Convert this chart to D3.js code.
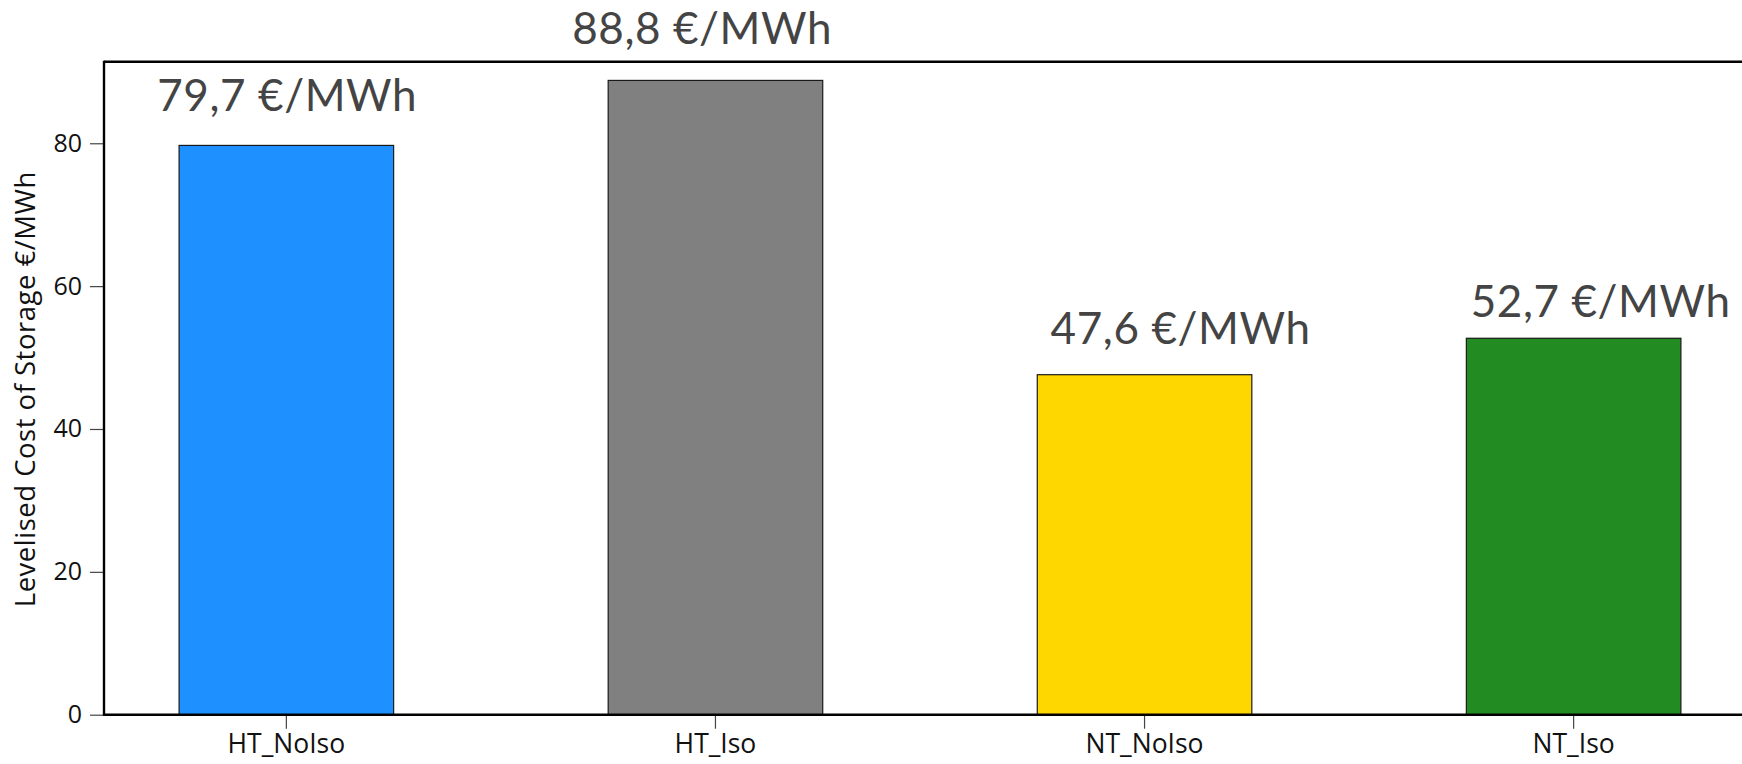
<!DOCTYPE html>
<html>
<head>
<meta charset="utf-8">
<script src="https://cdn.jsdelivr.net/npm/d3@7"></script>
<style>
  html, body { margin: 0; padding: 0; background: #ffffff; }
  svg { display: block; }
</style>
</head>
<body>
<svg id="chart" width="1742" height="764"></svg>
<script>
// Scenario categories and their levelised cost of storage (€/MWh)
const categories = ["HT_NoIso", "HT_Iso", "NT_NoIso", "NT_Iso"];
const lcosValues = [79.7, 88.8, 47.6, 52.7];
const barColors = ["#1E90FF", "#808080", "#FFD700", "#228B22"];
const yTickValues = [0, 20, 40, 60, 80];

// Annotation anchors: horizontal shift (in category steps) and baseline height (in €/MWh)
const noteShift = [0.002, -0.031, 0.084, 0.063];
const noteLevel = [84.5, 93.9, 51.9, 55.7];

const svg = d3.select("#chart");
const plotLeft = 104, plotRight = 1756, plotTop = 61.7, plotBottom = 714.7;

const x = d3.scaleBand()
  .domain(categories)
  .range([plotLeft, plotRight])
  .paddingInner(0.5)
  .paddingOuter(0.175);

const y = d3.scaleLinear()
  .domain([0, 91.42])
  .range([plotBottom, plotTop]);

const rows = categories.map((c, i) => ({
  cat: c, value: lcosValues[i], color: barColors[i],
  shift: noteShift[i], level: noteLevel[i]
}));

// Bars
svg.append("g").selectAll("rect")
  .data(rows)
  .join("rect")
  .attr("x", d => x(d.cat))
  .attr("y", d => y(d.value))
  .attr("width", x.bandwidth())
  .attr("height", d => y(0) - y(d.value))
  .attr("fill", d => d.color)
  .attr("stroke", "#1a1a1a")
  .attr("stroke-width", 1.2);

// Top frame line
svg.append("line")
  .attr("x1", plotLeft).attr("x2", plotRight)
  .attr("y1", plotTop).attr("y2", plotTop)
  .attr("stroke", "#000").attr("stroke-width", 2.4);

// Y axis
const yAxis = svg.append("g")
  .attr("transform", `translate(${plotLeft},0)`)
  .call(d3.axisLeft(y).tickValues(yTickValues).tickSize(14).tickPadding(8).tickSizeOuter(0));
yAxis.select(".domain").remove();
yAxis.append("line")
  .attr("x1", 0).attr("x2", 0)
  .attr("y1", plotTop - 1).attr("y2", plotBottom + 1)
  .attr("stroke", "#000").attr("stroke-width", 2.4);
yAxis.selectAll(".tick line").attr("stroke", "#444").attr("stroke-width", 1.2);
yAxis.selectAll(".tick text")
  .attr("fill", "#111")
  .style("font-family", "'Open Sans', sans-serif")
  .style("font-size", "25px");

// X axis
const xAxis = svg.append("g")
  .attr("transform", `translate(0,${plotBottom})`)
  .call(d3.axisBottom(x).tickSize(14).tickPadding(5).tickSizeOuter(0));
xAxis.select(".domain").remove();
xAxis.append("line")
  .attr("x1", plotLeft - 1).attr("x2", plotRight)
  .attr("y1", 0).attr("y2", 0)
  .attr("stroke", "#000").attr("stroke-width", 2.4);
xAxis.selectAll(".tick line").attr("stroke", "#444").attr("stroke-width", 1.2);
xAxis.selectAll(".tick text")
  .attr("fill", "#111")
  .style("font-family", "'Open Sans', sans-serif")
  .style("font-size", "26.5px");

// Y axis title
svg.append("text")
  .attr("transform", `translate(35,${(plotTop + plotBottom) / 2 + 1}) rotate(-90)`)
  .attr("text-anchor", "middle")
  .attr("fill", "#111")
  .style("font-family", "'Open Sans', sans-serif")
  .style("font-size", "27.5px")
  .style("letter-spacing", "0.5px")
  .text("Levelised Cost of Storage €/MWh");

// Value annotations
const fmt = v => d3.format(".1f")(v).replace(".", ",") + " €/MWh";
svg.append("g").selectAll("text")
  .data(rows)
  .join("text")
  .attr("x", d => x(d.cat) + x.bandwidth() / 2 + d.shift * x.step())
  .attr("y", d => y(d.level))
  .attr("text-anchor", "middle")
  .attr("fill", "#444")
  .style("font-family", "Lato, sans-serif")
  .style("font-size", "44px")
  .style("letter-spacing", "0.6px")
  .text(d => fmt(d.value));
</script>
</body>
</html>
